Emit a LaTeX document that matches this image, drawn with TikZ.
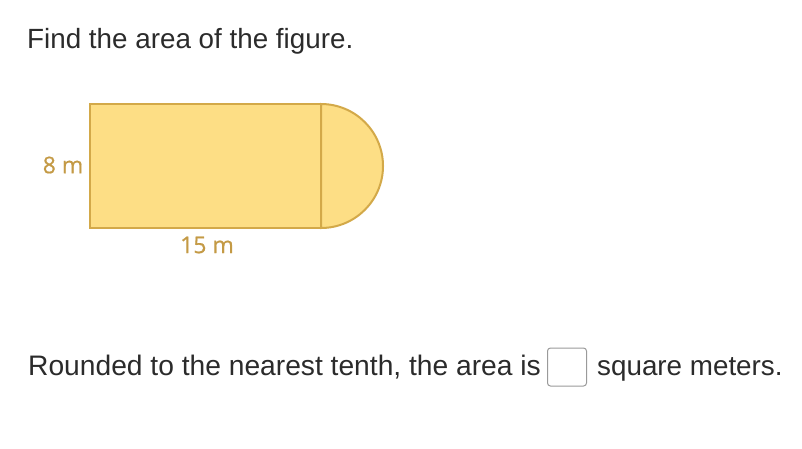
\documentclass[tikz,border=0pt]{standalone}
\usepackage{fontspec}
\setmainfont{Liberation Sans}
\newfontfamily\labelfont[FakeBold=0.6]{Open Sans}
\definecolor{shapefill}{HTML}{FDDE85}
\definecolor{shapeline}{HTML}{D3A949}
\definecolor{labelcol}{HTML}{C49A45}
\definecolor{textcol}{HTML}{2B2B2B}
\definecolor{boxline}{HTML}{9A9A9A}
\begin{document}
\begin{tikzpicture}[x=1pt,y=-1pt,
  maintext/.style={anchor=base west,inner sep=0pt,font=\fontsize{27.8}{32}\selectfont,text=textcol},
  dimlabel/.style={inner sep=0pt,font=\labelfont\fontsize{23}{26}\selectfont,text=labelcol},
  shapeedge/.style={draw=shapeline,line width=2pt,fill=shapefill}]
\useasboundingbox (0,0) rectangle (802,448);
\fill[white] (0,0) rectangle (802,448);
\node[maintext] (title) at (27,48) {Find the area of the figure.};
% figure
\coordinate (tl) at (90,104);
\coordinate (br) at (321,228);
\coordinate (tr) at (321,104);
\path[shapeedge] (tr) arc[start angle=-90,end angle=90,radius=62] -- cycle;
\path[shapeedge] (tl) rectangle (br);
\node[dimlabel] (h) at (63,165) {8 m};
\node[dimlabel] (w) at (207,245) {15 m};
% bottom sentence
\node[maintext,font=\fontsize{28.2}{32}\selectfont] (s1) at (28,375) {Rounded to the nearest tenth, the area is};
\draw[boxline,line width=1pt,rounded corners=3pt] (547.5,348) rectangle (586.5,386);
\node[maintext] (s2) at (597,375) {square meters.};
\end{tikzpicture}
\end{document}
